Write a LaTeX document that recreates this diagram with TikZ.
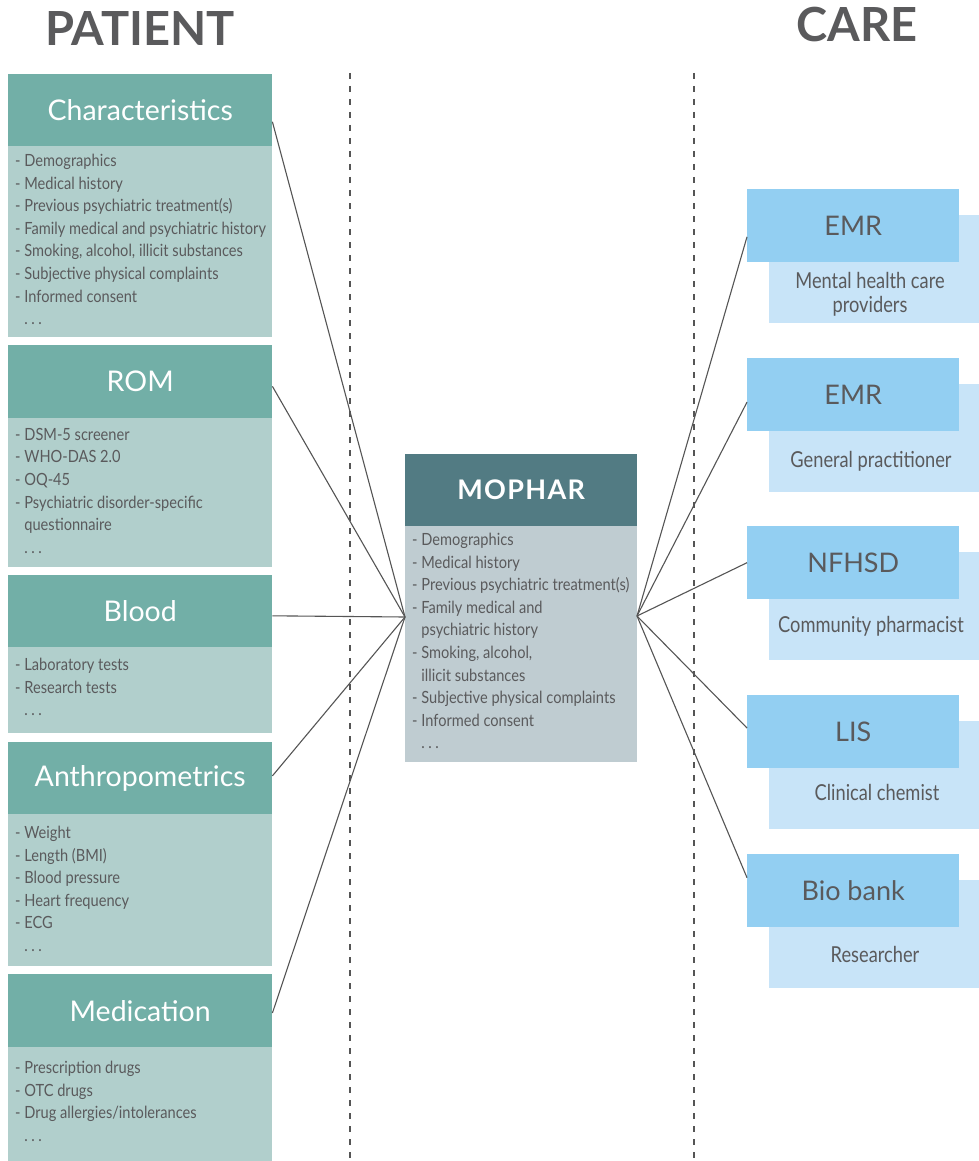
\documentclass[tikz,border=0pt]{standalone}
\usepackage{fontspec}
\setmainfont{Lato}
\newfontfamily\condf[FakeStretch=0.87]{Lato}
\newfontfamily\condr[FakeStretch=0.83]{Lato}
\definecolor{tealH}{HTML}{72AFA7}
\definecolor{tealB}{HTML}{B1CFCC}
\definecolor{mophH}{HTML}{527B83}
\definecolor{mophB}{HTML}{BFCCD1}
\definecolor{blueH}{HTML}{93CFF2}
\definecolor{blueB}{HTML}{C8E4F8}
\definecolor{txt}{HTML}{5A5A5C}
\definecolor{ln}{HTML}{555555}
\begin{document}
\begin{tikzpicture}[x=1pt,y=-1pt,
 lhead/.style={fill=tealH, minimum width=264pt, minimum height=72pt, anchor=north west, inner sep=0pt, text=white, font=\fontsize{28.5}{32}\selectfont},
 lbody/.style={fill=tealB, minimum width=264pt, anchor=north west, inner sep=0pt},
 ltext/.style={anchor=north west, inner sep=0pt, align=left, text=txt, font=\condf\fontsize{16.8}{22.6}\selectfont},
 rhead/.style={fill=blueH, minimum width=212pt, minimum height=73pt, anchor=north west, inner sep=0pt, text=txt, font=\fontsize{27}{30}\selectfont},
 rbody/.style={fill=blueB, minimum width=210pt, minimum height=108pt, anchor=north west, inner sep=0pt},
 rtext/.style={align=center, text=txt, inner sep=0pt, font=\condr\fontsize{22}{24}\selectfont},
 conn/.style={draw=ln, line width=1.1pt},
 divider/.style={draw=ln, line width=1.2pt, dash pattern=on 6pt off 7pt},
 title/.style={text=txt, font=\bfseries\fontsize{47}{52}\selectfont}
]
\useasboundingbox[fill=white] (0,0) rectangle (979,1161);
\newcommand{\ind}{\phantom{- }}
\newcommand{\etcdots}{\ind.\hspace{3.5pt}.\hspace{3.5pt}.}

% titles
\node[title] (patient) at (140,29) {PATIENT};
\node[title] (care) at (857,25) {CARE};

% dividers
\draw[divider] (350,73) -- (350,1161);
\draw[divider] (694,73) -- (694,1161);

% left boxes
\node[lbody, minimum height=192pt] (charB) at (8,145) {};
\node[lhead] (charH) at (8,74) {Characteristics};
\node[ltext] (charT) at (15,154) {- Demographics\\- Medical history\\- Previous psychiatric treatment(s)\\- Family medical and psychiatric history\\- Smoking, alcohol, illicit substances\\- Subjective physical complaints\\- Informed consent\\\etcdots};

\node[lbody, minimum height=149pt] (romB) at (8,418) {};
\node[lhead, minimum height=73pt] (romH) at (8,345) {ROM};
\node[ltext] (romT) at (15,428) {- DSM-5 screener\\- WHO-DAS 2.0\\- OQ-45\\- Psychiatric disorder-specific\\\ind questionnaire\\\etcdots};

\node[lbody, minimum height=86pt] (bloodB) at (8,647) {};
\node[lhead] (bloodH) at (8,575) {Blood};
\node[ltext] (bloodT) at (15,658) {- Laboratory tests\\- Research tests\\\etcdots};

\node[lbody, minimum height=152pt] (anthB) at (8,814) {};
\node[lhead] (anthH) at (8,742) {Anthropometrics};
\node[ltext] (anthT) at (15,826) {- Weight\\- Length (BMI)\\- Blood pressure\\- Heart frequency\\- ECG\\\etcdots};

\node[lbody, minimum height=114pt] (medB) at (8,1047) {};
\node[lhead, minimum height=73pt] (medH) at (8,974) {Medication};
\node[ltext] (medT) at (15,1061) {- Prescription drugs\\- OTC drugs\\- Drug allergies/intolerances\\\etcdots};

% center box
\node[fill=mophB, minimum width=232pt, minimum height=236pt, anchor=north west, inner sep=0pt] (mopB) at (405,526) {};
\node[fill=mophH, minimum width=232pt, minimum height=72pt, anchor=north west, inner sep=0pt, text=white, font=\bfseries\fontsize{27}{30}\selectfont\addfontfeature{LetterSpace=5}] (mopH) at (405,454) {MOPHAR};
\node[ltext] (mopT) at (412,533) {- Demographics\\- Medical history\\- Previous psychiatric treatment(s)\\- Family medical and\\\ind psychiatric history\\- Smoking, alcohol,\\\ind illicit substances\\- Subjective physical complaints\\- Informed consent\\\etcdots};

% right boxes
\node[rbody] (emr1B) at (769,215) {};
\node[rhead] (emr1H) at (747,189) {EMR};
\node[rtext] (emr1T) at (870,294) {Mental health care\\providers};

\node[rbody] (emr2B) at (769,384) {};
\node[rhead] (emr2H) at (747,358) {EMR};
\node[rtext, anchor=base] (emr2T) at (871,467) {General practitioner};

\node[rbody] (nfB) at (769,552) {};
\node[rhead] (nfH) at (747,526) {NFHSD};
\node[rtext, anchor=base] (nfT) at (871,632) {Community pharmacist};

\node[rbody] (lisB) at (769,721) {};
\node[rhead] (lisH) at (747,695) {LIS};
\node[rtext, anchor=base] (lisT) at (877,800) {Clinical chemist};

\node[rbody] (bioB) at (769,880) {};
\node[rhead] (bioH) at (747,854) {Bio bank};
\node[rtext, anchor=base] (bioT) at (875,962) {Researcher};

% connectors
\coordinate (hubL) at (405,617);
\coordinate (hubR) at (637,616);
\draw[conn] (charH.-5.8) -- (hubL);
\draw[conn] (romH.-2.4) -- (hubL);
\draw[conn] (bloodH.-2.6) -- (hubL);
\draw[conn] (anthH.1.7) -- (hubL);
\draw[conn] (medH.-1.95) -- (hubL);
\draw[conn] (hubR) -- (emr1H.186.7);
\draw[conn] (hubR) -- (emr2H.184.6);
\draw[conn] (hubR) -- (nfH.west);
\draw[conn] (hubR) -- (lisH.178.6);
\draw[conn] (hubR) -- (bioH.173.8);
\end{tikzpicture}
\end{document}
